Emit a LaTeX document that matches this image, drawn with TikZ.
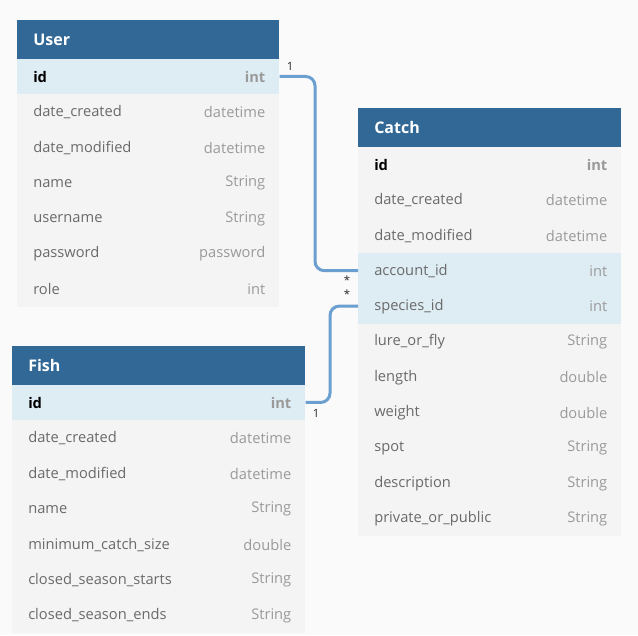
\documentclass[tikz,border=0pt]{standalone}
\usepackage{fontspec}
\setmainfont{Open Sans}
\definecolor{bg}{HTML}{FAFAFA}
\definecolor{hdrc}{HTML}{316896}
\definecolor{rowc}{HTML}{F4F4F4}
\definecolor{hlc}{HTML}{DEECF4}
\definecolor{namec}{HTML}{6A6A6A}
\definecolor{typec}{HTML}{9A9A9A}
\definecolor{linec}{HTML}{6A9FCF}
\newcommand\fsz{\fontsize{11}{13}\selectfont}
\tikzset{
  hdr/.style={fill=hdrc, draw=none, anchor=north west, minimum height=38.5*0.75pt, inner sep=0pt},
  hdrtext/.style={anchor=west, text=white, font=\fontsize{12}{14}\selectfont\bfseries, inner sep=0pt},
  rowbox/.style={draw=none, anchor=north west, minimum height=35.4*0.75pt, inner sep=0pt},
  fname/.style={anchor=west, inner sep=0pt},
  ftype/.style={anchor=east, inner sep=0pt},
  conn/.style={draw=linec, line width=3*0.75pt, rounded corners=7pt},
  card/.style={inner sep=0pt, font=\fontsize{8.5}{9}\selectfont, text=black!85}
}
% #1 name, #2 left x, #3 top y, #4 width, #5 title, #6 rows (field/type/kind)
\newcommand\ertable[6]{%
  \node[hdr, minimum width=#4*0.75pt] (#1) at (#2,#3) {};
  \node[hdrtext] (#1-title) at ([xshift=16*0.75pt]#1.west) {#5};
  \foreach \f/\t/\k [count=\i] in {#6} {
    \ifnum\k=0 \def\rc{rowc}\def\nc{namec}\def\tc{typec}\def\ff{}\fi
    \ifnum\k=1 \def\rc{hlc}\def\nc{black}\def\tc{typec}\def\ff{\bfseries}\fi
    \ifnum\k=2 \def\rc{rowc}\def\nc{black}\def\tc{typec}\def\ff{\bfseries}\fi
    \ifnum\k=3 \def\rc{hlc}\def\nc{namec}\def\tc{typec}\def\ff{}\fi
    \node[rowbox, fill=\rc, minimum width=#4*0.75pt] (#1-\i) at (#2,{#3+38.5+(\i-1)*35.4}) {};
    \node[fname, text=\nc, font=\fsz\ff] (#1-\i-n) at ([xshift=16*0.75pt,yshift=-0.4pt]#1-\i.west) {\f};
    \node[ftype, text=\tc, font=\fsz\ff] (#1-\i-t) at ([xshift=-14*0.75pt,yshift=-0.4pt]#1-\i.east) {\t};
  }%
}
\begin{document}
\begin{tikzpicture}[x=0.75pt, y=-0.75pt]
  \fill[bg] (0,0) rectangle (638,635);
  \useasboundingbox (0,0) rectangle (638,635);
  \ertable{user}{17}{20}{262}{User}{id/int/1, date\_created/datetime/0, date\_modified/datetime/0, name/String/0, username/String/0, password/password/0, role/int/0}
  \ertable{catch}{358}{108}{263}{Catch}{id/int/2, date\_created/datetime/0, date\_modified/datetime/0, account\_id/int/3, species\_id/int/3, lure\_or\_fly/String/0, length/double/0, weight/double/0, spot/String/0, description/String/0, private\_or\_public/String/0}
  \ertable{fish}{12}{346}{293}{Fish}{id/int/1, date\_created/datetime/0, date\_modified/datetime/0, name/String/0, minimum\_catch\_size/double/0, closed\_season\_starts/String/0, closed\_season\_ends/String/0}
  \coordinate (j1) at (315,0);
  \coordinate (j2) at (330,0);
  \draw[conn] (user-1.east) -- (j1 |- user-1.east) -- (j1 |- catch-4.west) -- (catch-4.west);
  \draw[conn] (fish-1.east) -- (j2 |- fish-1.east) -- (j2 |- catch-5.west) -- (catch-5.west);
  \node[card] (c1) at (290,66) {1};
  \node[card] (c2) at (347,280) {*};
  \node[card] (c3) at (347,294) {*};
  \node[card] (c4) at (316,413) {1};
\end{tikzpicture}
\end{document}
